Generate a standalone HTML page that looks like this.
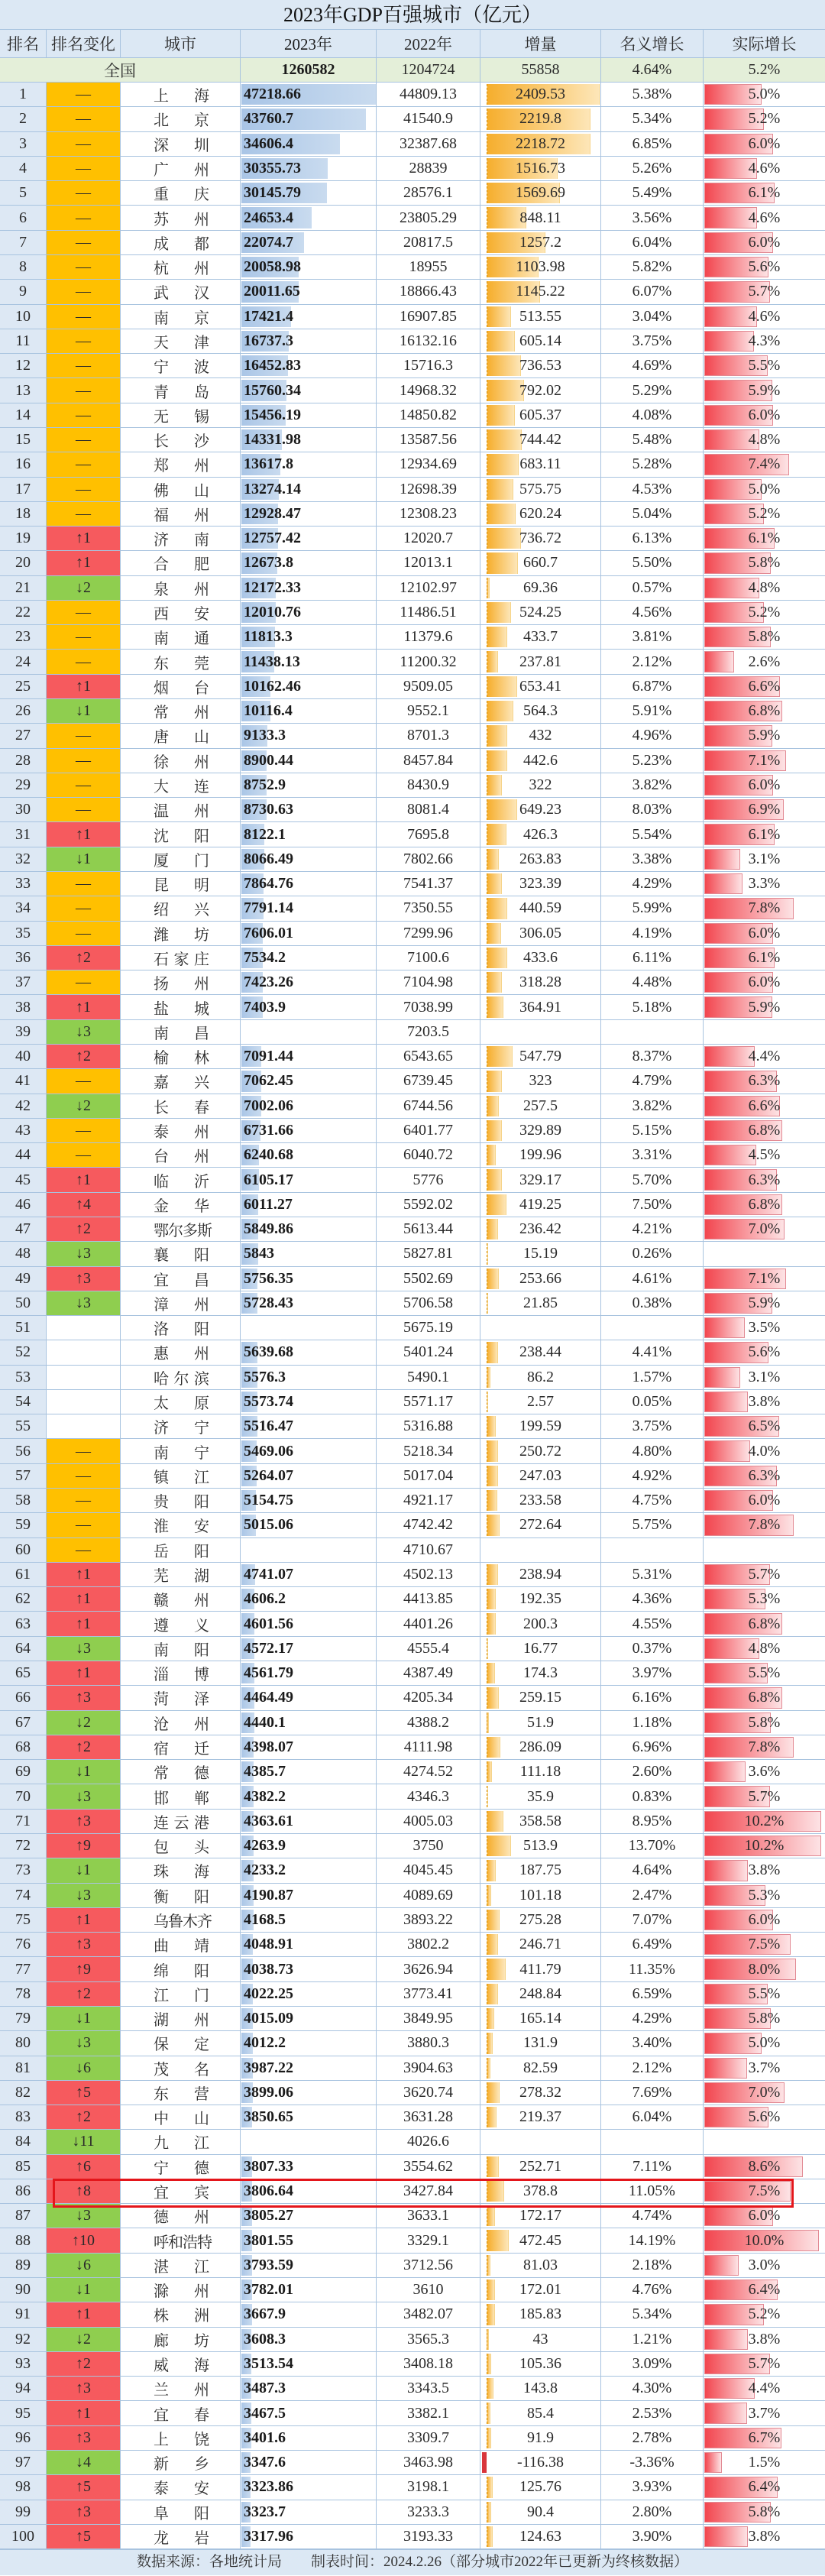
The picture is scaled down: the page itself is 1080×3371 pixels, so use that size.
<!DOCTYPE html>
<html><head><meta charset="utf-8">
<style>
*{margin:0;padding:0;box-sizing:border-box}
body{width:1080px;height:3371px;background:#fff;font-family:"Liberation Serif","Noto Serif CJK SC",serif;color:#2a2a2a;overflow:hidden}
.title{height:39px;background:#dce8f4;border-bottom:1px solid #a8c3df;text-align:center;font-size:26px;line-height:39px;color:#111}
.row{display:flex;height:32.29px;border-bottom:1px solid #a8c3df;font-size:20px}
.row>div{border-right:1px solid #a8c3df;position:relative;display:flex;align-items:center;justify-content:center;height:100%;white-space:nowrap}
.row>div:last-child{border-right:none}
.c1{width:61px;background:#dde8f4}
.c2{width:97px}
.c3{width:157px}
.c4{width:178px;justify-content:flex-start!important;padding-left:4px;font-weight:bold;color:#1a1a1a}
.c5{width:136px}
.c6{width:158px}
.c7{width:134px}
.c8{width:159px}
.hd{height:37px;background:#dce8f4;font-size:21px}
.hd>div{background:#dce8f4}
.qg{height:32px;background:#e4efd9;font-size:20px}
.qg>div{background:#e4efd9}
.o{background:#ffc000}
.u{background:#f65a5e}
.d{background:#8fce4f}
.c3 span{display:inline-block}
.n2{justify-content:space-between!important;padding:0 40px 0 43px}
.n3{justify-content:space-between!important;padding:0 40px 0 43px}
.n4{justify-content:flex-start!important;padding-left:43px;letter-spacing:-1px}
.c4 b,.c6 b,.c8 b{position:absolute;top:2px;bottom:2px;left:1px}
.c4 b{width:calc(var(--v) * 176px / 47218.66);background:linear-gradient(90deg,#a9c5e6,#c9dbef)}
.c6 b{left:8px;width:calc(var(--v) * 148px / 2409.53);background:linear-gradient(90deg,#f6ae2d,#fde6b8);border-left:1px dashed #d98f00;border-right:1px solid #f6d48a}
.c8 b{width:calc(var(--v) * 15px);background:linear-gradient(90deg,#f2464f,#fde3e5);border:1px solid #e28a94}
.c6 b.neg{left:2px;width:6px;background:#d9363c;border:none}
.c4 i,.c6 i,.c8 i{position:relative;font-style:normal}
.foot{height:34px;background:#dce8f4;text-align:center;font-size:19px;line-height:32px;color:#333;border-top:1px solid #a8c3df}
.box{position:absolute;left:69px;top:2851px;width:970px;height:38px;border:3px solid #e4161b}
</style></head><body>
<div class="title">2023年GDP百强城市（亿元）</div>
<div class="row hd"><div class="c1">排名</div><div class="c2">排名变化</div><div class="c3">城市</div><div class="c4" style="justify-content:center!important;padding:0;font-weight:normal">2023年</div><div class="c5">2022年</div><div class="c6">增量</div><div class="c7">名义增长</div><div class="c8">实际增长</div></div>
<div class="row qg"><div style="width:315px;font-size:21px">全国</div><div class="c4" style="justify-content:center!important;padding:0">1260582</div><div class="c5">1204724</div><div class="c6">55858</div><div class="c7">4.64%</div><div class="c8">5.2%</div></div>

<div class="row"><div class="c1">1</div><div class="c2 o">—</div><div class="c3 n2"><span>上</span><span>海</span></div><div class="c4" style="--v:47218.66"><b></b><i>47218.66</i></div><div class="c5">44809.13</div><div class="c6" style="--v:2409.53"><b></b><i>2409.53</i></div><div class="c7">5.38%</div><div class="c8" style="--v:5.0"><b></b><i>5.0%</i></div></div>
<div class="row"><div class="c1">2</div><div class="c2 o">—</div><div class="c3 n2"><span>北</span><span>京</span></div><div class="c4" style="--v:43760.7"><b></b><i>43760.7</i></div><div class="c5">41540.9</div><div class="c6" style="--v:2219.8"><b></b><i>2219.8</i></div><div class="c7">5.34%</div><div class="c8" style="--v:5.2"><b></b><i>5.2%</i></div></div>
<div class="row"><div class="c1">3</div><div class="c2 o">—</div><div class="c3 n2"><span>深</span><span>圳</span></div><div class="c4" style="--v:34606.4"><b></b><i>34606.4</i></div><div class="c5">32387.68</div><div class="c6" style="--v:2218.72"><b></b><i>2218.72</i></div><div class="c7">6.85%</div><div class="c8" style="--v:6.0"><b></b><i>6.0%</i></div></div>
<div class="row"><div class="c1">4</div><div class="c2 o">—</div><div class="c3 n2"><span>广</span><span>州</span></div><div class="c4" style="--v:30355.73"><b></b><i>30355.73</i></div><div class="c5">28839</div><div class="c6" style="--v:1516.73"><b></b><i>1516.73</i></div><div class="c7">5.26%</div><div class="c8" style="--v:4.6"><b></b><i>4.6%</i></div></div>
<div class="row"><div class="c1">5</div><div class="c2 o">—</div><div class="c3 n2"><span>重</span><span>庆</span></div><div class="c4" style="--v:30145.79"><b></b><i>30145.79</i></div><div class="c5">28576.1</div><div class="c6" style="--v:1569.69"><b></b><i>1569.69</i></div><div class="c7">5.49%</div><div class="c8" style="--v:6.1"><b></b><i>6.1%</i></div></div>
<div class="row"><div class="c1">6</div><div class="c2 o">—</div><div class="c3 n2"><span>苏</span><span>州</span></div><div class="c4" style="--v:24653.4"><b></b><i>24653.4</i></div><div class="c5">23805.29</div><div class="c6" style="--v:848.11"><b></b><i>848.11</i></div><div class="c7">3.56%</div><div class="c8" style="--v:4.6"><b></b><i>4.6%</i></div></div>
<div class="row"><div class="c1">7</div><div class="c2 o">—</div><div class="c3 n2"><span>成</span><span>都</span></div><div class="c4" style="--v:22074.7"><b></b><i>22074.7</i></div><div class="c5">20817.5</div><div class="c6" style="--v:1257.2"><b></b><i>1257.2</i></div><div class="c7">6.04%</div><div class="c8" style="--v:6.0"><b></b><i>6.0%</i></div></div>
<div class="row"><div class="c1">8</div><div class="c2 o">—</div><div class="c3 n2"><span>杭</span><span>州</span></div><div class="c4" style="--v:20058.98"><b></b><i>20058.98</i></div><div class="c5">18955</div><div class="c6" style="--v:1103.98"><b></b><i>1103.98</i></div><div class="c7">5.82%</div><div class="c8" style="--v:5.6"><b></b><i>5.6%</i></div></div>
<div class="row"><div class="c1">9</div><div class="c2 o">—</div><div class="c3 n2"><span>武</span><span>汉</span></div><div class="c4" style="--v:20011.65"><b></b><i>20011.65</i></div><div class="c5">18866.43</div><div class="c6" style="--v:1145.22"><b></b><i>1145.22</i></div><div class="c7">6.07%</div><div class="c8" style="--v:5.7"><b></b><i>5.7%</i></div></div>
<div class="row"><div class="c1">10</div><div class="c2 o">—</div><div class="c3 n2"><span>南</span><span>京</span></div><div class="c4" style="--v:17421.4"><b></b><i>17421.4</i></div><div class="c5">16907.85</div><div class="c6" style="--v:513.55"><b></b><i>513.55</i></div><div class="c7">3.04%</div><div class="c8" style="--v:4.6"><b></b><i>4.6%</i></div></div>
<div class="row"><div class="c1">11</div><div class="c2 o">—</div><div class="c3 n2"><span>天</span><span>津</span></div><div class="c4" style="--v:16737.3"><b></b><i>16737.3</i></div><div class="c5">16132.16</div><div class="c6" style="--v:605.14"><b></b><i>605.14</i></div><div class="c7">3.75%</div><div class="c8" style="--v:4.3"><b></b><i>4.3%</i></div></div>
<div class="row"><div class="c1">12</div><div class="c2 o">—</div><div class="c3 n2"><span>宁</span><span>波</span></div><div class="c4" style="--v:16452.83"><b></b><i>16452.83</i></div><div class="c5">15716.3</div><div class="c6" style="--v:736.53"><b></b><i>736.53</i></div><div class="c7">4.69%</div><div class="c8" style="--v:5.5"><b></b><i>5.5%</i></div></div>
<div class="row"><div class="c1">13</div><div class="c2 o">—</div><div class="c3 n2"><span>青</span><span>岛</span></div><div class="c4" style="--v:15760.34"><b></b><i>15760.34</i></div><div class="c5">14968.32</div><div class="c6" style="--v:792.02"><b></b><i>792.02</i></div><div class="c7">5.29%</div><div class="c8" style="--v:5.9"><b></b><i>5.9%</i></div></div>
<div class="row"><div class="c1">14</div><div class="c2 o">—</div><div class="c3 n2"><span>无</span><span>锡</span></div><div class="c4" style="--v:15456.19"><b></b><i>15456.19</i></div><div class="c5">14850.82</div><div class="c6" style="--v:605.37"><b></b><i>605.37</i></div><div class="c7">4.08%</div><div class="c8" style="--v:6.0"><b></b><i>6.0%</i></div></div>
<div class="row"><div class="c1">15</div><div class="c2 o">—</div><div class="c3 n2"><span>长</span><span>沙</span></div><div class="c4" style="--v:14331.98"><b></b><i>14331.98</i></div><div class="c5">13587.56</div><div class="c6" style="--v:744.42"><b></b><i>744.42</i></div><div class="c7">5.48%</div><div class="c8" style="--v:4.8"><b></b><i>4.8%</i></div></div>
<div class="row"><div class="c1">16</div><div class="c2 o">—</div><div class="c3 n2"><span>郑</span><span>州</span></div><div class="c4" style="--v:13617.8"><b></b><i>13617.8</i></div><div class="c5">12934.69</div><div class="c6" style="--v:683.11"><b></b><i>683.11</i></div><div class="c7">5.28%</div><div class="c8" style="--v:7.4"><b></b><i>7.4%</i></div></div>
<div class="row"><div class="c1">17</div><div class="c2 o">—</div><div class="c3 n2"><span>佛</span><span>山</span></div><div class="c4" style="--v:13274.14"><b></b><i>13274.14</i></div><div class="c5">12698.39</div><div class="c6" style="--v:575.75"><b></b><i>575.75</i></div><div class="c7">4.53%</div><div class="c8" style="--v:5.0"><b></b><i>5.0%</i></div></div>
<div class="row"><div class="c1">18</div><div class="c2 o">—</div><div class="c3 n2"><span>福</span><span>州</span></div><div class="c4" style="--v:12928.47"><b></b><i>12928.47</i></div><div class="c5">12308.23</div><div class="c6" style="--v:620.24"><b></b><i>620.24</i></div><div class="c7">5.04%</div><div class="c8" style="--v:5.2"><b></b><i>5.2%</i></div></div>
<div class="row"><div class="c1">19</div><div class="c2 u">↑1</div><div class="c3 n2"><span>济</span><span>南</span></div><div class="c4" style="--v:12757.42"><b></b><i>12757.42</i></div><div class="c5">12020.7</div><div class="c6" style="--v:736.72"><b></b><i>736.72</i></div><div class="c7">6.13%</div><div class="c8" style="--v:6.1"><b></b><i>6.1%</i></div></div>
<div class="row"><div class="c1">20</div><div class="c2 u">↑1</div><div class="c3 n2"><span>合</span><span>肥</span></div><div class="c4" style="--v:12673.8"><b></b><i>12673.8</i></div><div class="c5">12013.1</div><div class="c6" style="--v:660.7"><b></b><i>660.7</i></div><div class="c7">5.50%</div><div class="c8" style="--v:5.8"><b></b><i>5.8%</i></div></div>
<div class="row"><div class="c1">21</div><div class="c2 d">↓2</div><div class="c3 n2"><span>泉</span><span>州</span></div><div class="c4" style="--v:12172.33"><b></b><i>12172.33</i></div><div class="c5">12102.97</div><div class="c6" style="--v:69.36"><b></b><i>69.36</i></div><div class="c7">0.57%</div><div class="c8" style="--v:4.8"><b></b><i>4.8%</i></div></div>
<div class="row"><div class="c1">22</div><div class="c2 o">—</div><div class="c3 n2"><span>西</span><span>安</span></div><div class="c4" style="--v:12010.76"><b></b><i>12010.76</i></div><div class="c5">11486.51</div><div class="c6" style="--v:524.25"><b></b><i>524.25</i></div><div class="c7">4.56%</div><div class="c8" style="--v:5.2"><b></b><i>5.2%</i></div></div>
<div class="row"><div class="c1">23</div><div class="c2 o">—</div><div class="c3 n2"><span>南</span><span>通</span></div><div class="c4" style="--v:11813.3"><b></b><i>11813.3</i></div><div class="c5">11379.6</div><div class="c6" style="--v:433.7"><b></b><i>433.7</i></div><div class="c7">3.81%</div><div class="c8" style="--v:5.8"><b></b><i>5.8%</i></div></div>
<div class="row"><div class="c1">24</div><div class="c2 o">—</div><div class="c3 n2"><span>东</span><span>莞</span></div><div class="c4" style="--v:11438.13"><b></b><i>11438.13</i></div><div class="c5">11200.32</div><div class="c6" style="--v:237.81"><b></b><i>237.81</i></div><div class="c7">2.12%</div><div class="c8" style="--v:2.6"><b></b><i>2.6%</i></div></div>
<div class="row"><div class="c1">25</div><div class="c2 u">↑1</div><div class="c3 n2"><span>烟</span><span>台</span></div><div class="c4" style="--v:10162.46"><b></b><i>10162.46</i></div><div class="c5">9509.05</div><div class="c6" style="--v:653.41"><b></b><i>653.41</i></div><div class="c7">6.87%</div><div class="c8" style="--v:6.6"><b></b><i>6.6%</i></div></div>
<div class="row"><div class="c1">26</div><div class="c2 d">↓1</div><div class="c3 n2"><span>常</span><span>州</span></div><div class="c4" style="--v:10116.4"><b></b><i>10116.4</i></div><div class="c5">9552.1</div><div class="c6" style="--v:564.3"><b></b><i>564.3</i></div><div class="c7">5.91%</div><div class="c8" style="--v:6.8"><b></b><i>6.8%</i></div></div>
<div class="row"><div class="c1">27</div><div class="c2 o">—</div><div class="c3 n2"><span>唐</span><span>山</span></div><div class="c4" style="--v:9133.3"><b></b><i>9133.3</i></div><div class="c5">8701.3</div><div class="c6" style="--v:432"><b></b><i>432</i></div><div class="c7">4.96%</div><div class="c8" style="--v:5.9"><b></b><i>5.9%</i></div></div>
<div class="row"><div class="c1">28</div><div class="c2 o">—</div><div class="c3 n2"><span>徐</span><span>州</span></div><div class="c4" style="--v:8900.44"><b></b><i>8900.44</i></div><div class="c5">8457.84</div><div class="c6" style="--v:442.6"><b></b><i>442.6</i></div><div class="c7">5.23%</div><div class="c8" style="--v:7.1"><b></b><i>7.1%</i></div></div>
<div class="row"><div class="c1">29</div><div class="c2 o">—</div><div class="c3 n2"><span>大</span><span>连</span></div><div class="c4" style="--v:8752.9"><b></b><i>8752.9</i></div><div class="c5">8430.9</div><div class="c6" style="--v:322"><b></b><i>322</i></div><div class="c7">3.82%</div><div class="c8" style="--v:6.0"><b></b><i>6.0%</i></div></div>
<div class="row"><div class="c1">30</div><div class="c2 o">—</div><div class="c3 n2"><span>温</span><span>州</span></div><div class="c4" style="--v:8730.63"><b></b><i>8730.63</i></div><div class="c5">8081.4</div><div class="c6" style="--v:649.23"><b></b><i>649.23</i></div><div class="c7">8.03%</div><div class="c8" style="--v:6.9"><b></b><i>6.9%</i></div></div>
<div class="row"><div class="c1">31</div><div class="c2 u">↑1</div><div class="c3 n2"><span>沈</span><span>阳</span></div><div class="c4" style="--v:8122.1"><b></b><i>8122.1</i></div><div class="c5">7695.8</div><div class="c6" style="--v:426.3"><b></b><i>426.3</i></div><div class="c7">5.54%</div><div class="c8" style="--v:6.1"><b></b><i>6.1%</i></div></div>
<div class="row"><div class="c1">32</div><div class="c2 d">↓1</div><div class="c3 n2"><span>厦</span><span>门</span></div><div class="c4" style="--v:8066.49"><b></b><i>8066.49</i></div><div class="c5">7802.66</div><div class="c6" style="--v:263.83"><b></b><i>263.83</i></div><div class="c7">3.38%</div><div class="c8" style="--v:3.1"><b></b><i>3.1%</i></div></div>
<div class="row"><div class="c1">33</div><div class="c2 o">—</div><div class="c3 n2"><span>昆</span><span>明</span></div><div class="c4" style="--v:7864.76"><b></b><i>7864.76</i></div><div class="c5">7541.37</div><div class="c6" style="--v:323.39"><b></b><i>323.39</i></div><div class="c7">4.29%</div><div class="c8" style="--v:3.3"><b></b><i>3.3%</i></div></div>
<div class="row"><div class="c1">34</div><div class="c2 o">—</div><div class="c3 n2"><span>绍</span><span>兴</span></div><div class="c4" style="--v:7791.14"><b></b><i>7791.14</i></div><div class="c5">7350.55</div><div class="c6" style="--v:440.59"><b></b><i>440.59</i></div><div class="c7">5.99%</div><div class="c8" style="--v:7.8"><b></b><i>7.8%</i></div></div>
<div class="row"><div class="c1">35</div><div class="c2 o">—</div><div class="c3 n2"><span>潍</span><span>坊</span></div><div class="c4" style="--v:7606.01"><b></b><i>7606.01</i></div><div class="c5">7299.96</div><div class="c6" style="--v:306.05"><b></b><i>306.05</i></div><div class="c7">4.19%</div><div class="c8" style="--v:6.0"><b></b><i>6.0%</i></div></div>
<div class="row"><div class="c1">36</div><div class="c2 u">↑2</div><div class="c3 n3"><span>石</span><span>家</span><span>庄</span></div><div class="c4" style="--v:7534.2"><b></b><i>7534.2</i></div><div class="c5">7100.6</div><div class="c6" style="--v:433.6"><b></b><i>433.6</i></div><div class="c7">6.11%</div><div class="c8" style="--v:6.1"><b></b><i>6.1%</i></div></div>
<div class="row"><div class="c1">37</div><div class="c2 o">—</div><div class="c3 n2"><span>扬</span><span>州</span></div><div class="c4" style="--v:7423.26"><b></b><i>7423.26</i></div><div class="c5">7104.98</div><div class="c6" style="--v:318.28"><b></b><i>318.28</i></div><div class="c7">4.48%</div><div class="c8" style="--v:6.0"><b></b><i>6.0%</i></div></div>
<div class="row"><div class="c1">38</div><div class="c2 u">↑1</div><div class="c3 n2"><span>盐</span><span>城</span></div><div class="c4" style="--v:7403.9"><b></b><i>7403.9</i></div><div class="c5">7038.99</div><div class="c6" style="--v:364.91"><b></b><i>364.91</i></div><div class="c7">5.18%</div><div class="c8" style="--v:5.9"><b></b><i>5.9%</i></div></div>
<div class="row"><div class="c1">39</div><div class="c2 d">↓3</div><div class="c3 n2"><span>南</span><span>昌</span></div><div class="c4"></div><div class="c5">7203.5</div><div class="c6"></div><div class="c7"></div><div class="c8"></div></div>
<div class="row"><div class="c1">40</div><div class="c2 u">↑2</div><div class="c3 n2"><span>榆</span><span>林</span></div><div class="c4" style="--v:7091.44"><b></b><i>7091.44</i></div><div class="c5">6543.65</div><div class="c6" style="--v:547.79"><b></b><i>547.79</i></div><div class="c7">8.37%</div><div class="c8" style="--v:4.4"><b></b><i>4.4%</i></div></div>
<div class="row"><div class="c1">41</div><div class="c2 o">—</div><div class="c3 n2"><span>嘉</span><span>兴</span></div><div class="c4" style="--v:7062.45"><b></b><i>7062.45</i></div><div class="c5">6739.45</div><div class="c6" style="--v:323"><b></b><i>323</i></div><div class="c7">4.79%</div><div class="c8" style="--v:6.3"><b></b><i>6.3%</i></div></div>
<div class="row"><div class="c1">42</div><div class="c2 d">↓2</div><div class="c3 n2"><span>长</span><span>春</span></div><div class="c4" style="--v:7002.06"><b></b><i>7002.06</i></div><div class="c5">6744.56</div><div class="c6" style="--v:257.5"><b></b><i>257.5</i></div><div class="c7">3.82%</div><div class="c8" style="--v:6.6"><b></b><i>6.6%</i></div></div>
<div class="row"><div class="c1">43</div><div class="c2 o">—</div><div class="c3 n2"><span>泰</span><span>州</span></div><div class="c4" style="--v:6731.66"><b></b><i>6731.66</i></div><div class="c5">6401.77</div><div class="c6" style="--v:329.89"><b></b><i>329.89</i></div><div class="c7">5.15%</div><div class="c8" style="--v:6.8"><b></b><i>6.8%</i></div></div>
<div class="row"><div class="c1">44</div><div class="c2 o">—</div><div class="c3 n2"><span>台</span><span>州</span></div><div class="c4" style="--v:6240.68"><b></b><i>6240.68</i></div><div class="c5">6040.72</div><div class="c6" style="--v:199.96"><b></b><i>199.96</i></div><div class="c7">3.31%</div><div class="c8" style="--v:4.5"><b></b><i>4.5%</i></div></div>
<div class="row"><div class="c1">45</div><div class="c2 u">↑1</div><div class="c3 n2"><span>临</span><span>沂</span></div><div class="c4" style="--v:6105.17"><b></b><i>6105.17</i></div><div class="c5">5776</div><div class="c6" style="--v:329.17"><b></b><i>329.17</i></div><div class="c7">5.70%</div><div class="c8" style="--v:6.3"><b></b><i>6.3%</i></div></div>
<div class="row"><div class="c1">46</div><div class="c2 u">↑4</div><div class="c3 n2"><span>金</span><span>华</span></div><div class="c4" style="--v:6011.27"><b></b><i>6011.27</i></div><div class="c5">5592.02</div><div class="c6" style="--v:419.25"><b></b><i>419.25</i></div><div class="c7">7.50%</div><div class="c8" style="--v:6.8"><b></b><i>6.8%</i></div></div>
<div class="row"><div class="c1">47</div><div class="c2 u">↑2</div><div class="c3 n4">鄂尔多斯</div><div class="c4" style="--v:5849.86"><b></b><i>5849.86</i></div><div class="c5">5613.44</div><div class="c6" style="--v:236.42"><b></b><i>236.42</i></div><div class="c7">4.21%</div><div class="c8" style="--v:7.0"><b></b><i>7.0%</i></div></div>
<div class="row"><div class="c1">48</div><div class="c2 d">↓3</div><div class="c3 n2"><span>襄</span><span>阳</span></div><div class="c4" style="--v:5843"><b></b><i>5843</i></div><div class="c5">5827.81</div><div class="c6" style="--v:15.19"><b></b><i>15.19</i></div><div class="c7">0.26%</div><div class="c8"></div></div>
<div class="row"><div class="c1">49</div><div class="c2 u">↑3</div><div class="c3 n2"><span>宜</span><span>昌</span></div><div class="c4" style="--v:5756.35"><b></b><i>5756.35</i></div><div class="c5">5502.69</div><div class="c6" style="--v:253.66"><b></b><i>253.66</i></div><div class="c7">4.61%</div><div class="c8" style="--v:7.1"><b></b><i>7.1%</i></div></div>
<div class="row"><div class="c1">50</div><div class="c2 d">↓3</div><div class="c3 n2"><span>漳</span><span>州</span></div><div class="c4" style="--v:5728.43"><b></b><i>5728.43</i></div><div class="c5">5706.58</div><div class="c6" style="--v:21.85"><b></b><i>21.85</i></div><div class="c7">0.38%</div><div class="c8" style="--v:5.9"><b></b><i>5.9%</i></div></div>
<div class="row"><div class="c1">51</div><div class="c2"></div><div class="c3 n2"><span>洛</span><span>阳</span></div><div class="c4"></div><div class="c5">5675.19</div><div class="c6"></div><div class="c7"></div><div class="c8" style="--v:3.5"><b></b><i>3.5%</i></div></div>
<div class="row"><div class="c1">52</div><div class="c2"></div><div class="c3 n2"><span>惠</span><span>州</span></div><div class="c4" style="--v:5639.68"><b></b><i>5639.68</i></div><div class="c5">5401.24</div><div class="c6" style="--v:238.44"><b></b><i>238.44</i></div><div class="c7">4.41%</div><div class="c8" style="--v:5.6"><b></b><i>5.6%</i></div></div>
<div class="row"><div class="c1">53</div><div class="c2"></div><div class="c3 n3"><span>哈</span><span>尔</span><span>滨</span></div><div class="c4" style="--v:5576.3"><b></b><i>5576.3</i></div><div class="c5">5490.1</div><div class="c6" style="--v:86.2"><b></b><i>86.2</i></div><div class="c7">1.57%</div><div class="c8" style="--v:3.1"><b></b><i>3.1%</i></div></div>
<div class="row"><div class="c1">54</div><div class="c2"></div><div class="c3 n2"><span>太</span><span>原</span></div><div class="c4" style="--v:5573.74"><b></b><i>5573.74</i></div><div class="c5">5571.17</div><div class="c6" style="--v:2.57"><b></b><i>2.57</i></div><div class="c7">0.05%</div><div class="c8" style="--v:3.8"><b></b><i>3.8%</i></div></div>
<div class="row"><div class="c1">55</div><div class="c2"></div><div class="c3 n2"><span>济</span><span>宁</span></div><div class="c4" style="--v:5516.47"><b></b><i>5516.47</i></div><div class="c5">5316.88</div><div class="c6" style="--v:199.59"><b></b><i>199.59</i></div><div class="c7">3.75%</div><div class="c8" style="--v:6.5"><b></b><i>6.5%</i></div></div>
<div class="row"><div class="c1">56</div><div class="c2 o">—</div><div class="c3 n2"><span>南</span><span>宁</span></div><div class="c4" style="--v:5469.06"><b></b><i>5469.06</i></div><div class="c5">5218.34</div><div class="c6" style="--v:250.72"><b></b><i>250.72</i></div><div class="c7">4.80%</div><div class="c8" style="--v:4.0"><b></b><i>4.0%</i></div></div>
<div class="row"><div class="c1">57</div><div class="c2 o">—</div><div class="c3 n2"><span>镇</span><span>江</span></div><div class="c4" style="--v:5264.07"><b></b><i>5264.07</i></div><div class="c5">5017.04</div><div class="c6" style="--v:247.03"><b></b><i>247.03</i></div><div class="c7">4.92%</div><div class="c8" style="--v:6.3"><b></b><i>6.3%</i></div></div>
<div class="row"><div class="c1">58</div><div class="c2 o">—</div><div class="c3 n2"><span>贵</span><span>阳</span></div><div class="c4" style="--v:5154.75"><b></b><i>5154.75</i></div><div class="c5">4921.17</div><div class="c6" style="--v:233.58"><b></b><i>233.58</i></div><div class="c7">4.75%</div><div class="c8" style="--v:6.0"><b></b><i>6.0%</i></div></div>
<div class="row"><div class="c1">59</div><div class="c2 o">—</div><div class="c3 n2"><span>淮</span><span>安</span></div><div class="c4" style="--v:5015.06"><b></b><i>5015.06</i></div><div class="c5">4742.42</div><div class="c6" style="--v:272.64"><b></b><i>272.64</i></div><div class="c7">5.75%</div><div class="c8" style="--v:7.8"><b></b><i>7.8%</i></div></div>
<div class="row"><div class="c1">60</div><div class="c2 o">—</div><div class="c3 n2"><span>岳</span><span>阳</span></div><div class="c4"></div><div class="c5">4710.67</div><div class="c6"></div><div class="c7"></div><div class="c8"></div></div>
<div class="row"><div class="c1">61</div><div class="c2 u">↑1</div><div class="c3 n2"><span>芜</span><span>湖</span></div><div class="c4" style="--v:4741.07"><b></b><i>4741.07</i></div><div class="c5">4502.13</div><div class="c6" style="--v:238.94"><b></b><i>238.94</i></div><div class="c7">5.31%</div><div class="c8" style="--v:5.7"><b></b><i>5.7%</i></div></div>
<div class="row"><div class="c1">62</div><div class="c2 u">↑1</div><div class="c3 n2"><span>赣</span><span>州</span></div><div class="c4" style="--v:4606.2"><b></b><i>4606.2</i></div><div class="c5">4413.85</div><div class="c6" style="--v:192.35"><b></b><i>192.35</i></div><div class="c7">4.36%</div><div class="c8" style="--v:5.3"><b></b><i>5.3%</i></div></div>
<div class="row"><div class="c1">63</div><div class="c2 u">↑1</div><div class="c3 n2"><span>遵</span><span>义</span></div><div class="c4" style="--v:4601.56"><b></b><i>4601.56</i></div><div class="c5">4401.26</div><div class="c6" style="--v:200.3"><b></b><i>200.3</i></div><div class="c7">4.55%</div><div class="c8" style="--v:6.8"><b></b><i>6.8%</i></div></div>
<div class="row"><div class="c1">64</div><div class="c2 d">↓3</div><div class="c3 n2"><span>南</span><span>阳</span></div><div class="c4" style="--v:4572.17"><b></b><i>4572.17</i></div><div class="c5">4555.4</div><div class="c6" style="--v:16.77"><b></b><i>16.77</i></div><div class="c7">0.37%</div><div class="c8" style="--v:4.8"><b></b><i>4.8%</i></div></div>
<div class="row"><div class="c1">65</div><div class="c2 u">↑1</div><div class="c3 n2"><span>淄</span><span>博</span></div><div class="c4" style="--v:4561.79"><b></b><i>4561.79</i></div><div class="c5">4387.49</div><div class="c6" style="--v:174.3"><b></b><i>174.3</i></div><div class="c7">3.97%</div><div class="c8" style="--v:5.5"><b></b><i>5.5%</i></div></div>
<div class="row"><div class="c1">66</div><div class="c2 u">↑3</div><div class="c3 n2"><span>菏</span><span>泽</span></div><div class="c4" style="--v:4464.49"><b></b><i>4464.49</i></div><div class="c5">4205.34</div><div class="c6" style="--v:259.15"><b></b><i>259.15</i></div><div class="c7">6.16%</div><div class="c8" style="--v:6.8"><b></b><i>6.8%</i></div></div>
<div class="row"><div class="c1">67</div><div class="c2 d">↓2</div><div class="c3 n2"><span>沧</span><span>州</span></div><div class="c4" style="--v:4440.1"><b></b><i>4440.1</i></div><div class="c5">4388.2</div><div class="c6" style="--v:51.9"><b></b><i>51.9</i></div><div class="c7">1.18%</div><div class="c8" style="--v:5.8"><b></b><i>5.8%</i></div></div>
<div class="row"><div class="c1">68</div><div class="c2 u">↑2</div><div class="c3 n2"><span>宿</span><span>迁</span></div><div class="c4" style="--v:4398.07"><b></b><i>4398.07</i></div><div class="c5">4111.98</div><div class="c6" style="--v:286.09"><b></b><i>286.09</i></div><div class="c7">6.96%</div><div class="c8" style="--v:7.8"><b></b><i>7.8%</i></div></div>
<div class="row"><div class="c1">69</div><div class="c2 d">↓1</div><div class="c3 n2"><span>常</span><span>德</span></div><div class="c4" style="--v:4385.7"><b></b><i>4385.7</i></div><div class="c5">4274.52</div><div class="c6" style="--v:111.18"><b></b><i>111.18</i></div><div class="c7">2.60%</div><div class="c8" style="--v:3.6"><b></b><i>3.6%</i></div></div>
<div class="row"><div class="c1">70</div><div class="c2 d">↓3</div><div class="c3 n2"><span>邯</span><span>郸</span></div><div class="c4" style="--v:4382.2"><b></b><i>4382.2</i></div><div class="c5">4346.3</div><div class="c6" style="--v:35.9"><b></b><i>35.9</i></div><div class="c7">0.83%</div><div class="c8" style="--v:5.7"><b></b><i>5.7%</i></div></div>
<div class="row"><div class="c1">71</div><div class="c2 u">↑3</div><div class="c3 n3"><span>连</span><span>云</span><span>港</span></div><div class="c4" style="--v:4363.61"><b></b><i>4363.61</i></div><div class="c5">4005.03</div><div class="c6" style="--v:358.58"><b></b><i>358.58</i></div><div class="c7">8.95%</div><div class="c8" style="--v:10.2"><b></b><i>10.2%</i></div></div>
<div class="row"><div class="c1">72</div><div class="c2 u">↑9</div><div class="c3 n2"><span>包</span><span>头</span></div><div class="c4" style="--v:4263.9"><b></b><i>4263.9</i></div><div class="c5">3750</div><div class="c6" style="--v:513.9"><b></b><i>513.9</i></div><div class="c7">13.70%</div><div class="c8" style="--v:10.2"><b></b><i>10.2%</i></div></div>
<div class="row"><div class="c1">73</div><div class="c2 d">↓1</div><div class="c3 n2"><span>珠</span><span>海</span></div><div class="c4" style="--v:4233.2"><b></b><i>4233.2</i></div><div class="c5">4045.45</div><div class="c6" style="--v:187.75"><b></b><i>187.75</i></div><div class="c7">4.64%</div><div class="c8" style="--v:3.8"><b></b><i>3.8%</i></div></div>
<div class="row"><div class="c1">74</div><div class="c2 d">↓3</div><div class="c3 n2"><span>衡</span><span>阳</span></div><div class="c4" style="--v:4190.87"><b></b><i>4190.87</i></div><div class="c5">4089.69</div><div class="c6" style="--v:101.18"><b></b><i>101.18</i></div><div class="c7">2.47%</div><div class="c8" style="--v:5.3"><b></b><i>5.3%</i></div></div>
<div class="row"><div class="c1">75</div><div class="c2 u">↑1</div><div class="c3 n4">乌鲁木齐</div><div class="c4" style="--v:4168.5"><b></b><i>4168.5</i></div><div class="c5">3893.22</div><div class="c6" style="--v:275.28"><b></b><i>275.28</i></div><div class="c7">7.07%</div><div class="c8" style="--v:6.0"><b></b><i>6.0%</i></div></div>
<div class="row"><div class="c1">76</div><div class="c2 u">↑3</div><div class="c3 n2"><span>曲</span><span>靖</span></div><div class="c4" style="--v:4048.91"><b></b><i>4048.91</i></div><div class="c5">3802.2</div><div class="c6" style="--v:246.71"><b></b><i>246.71</i></div><div class="c7">6.49%</div><div class="c8" style="--v:7.5"><b></b><i>7.5%</i></div></div>
<div class="row"><div class="c1">77</div><div class="c2 u">↑9</div><div class="c3 n2"><span>绵</span><span>阳</span></div><div class="c4" style="--v:4038.73"><b></b><i>4038.73</i></div><div class="c5">3626.94</div><div class="c6" style="--v:411.79"><b></b><i>411.79</i></div><div class="c7">11.35%</div><div class="c8" style="--v:8.0"><b></b><i>8.0%</i></div></div>
<div class="row"><div class="c1">78</div><div class="c2 u">↑2</div><div class="c3 n2"><span>江</span><span>门</span></div><div class="c4" style="--v:4022.25"><b></b><i>4022.25</i></div><div class="c5">3773.41</div><div class="c6" style="--v:248.84"><b></b><i>248.84</i></div><div class="c7">6.59%</div><div class="c8" style="--v:5.5"><b></b><i>5.5%</i></div></div>
<div class="row"><div class="c1">79</div><div class="c2 d">↓1</div><div class="c3 n2"><span>湖</span><span>州</span></div><div class="c4" style="--v:4015.09"><b></b><i>4015.09</i></div><div class="c5">3849.95</div><div class="c6" style="--v:165.14"><b></b><i>165.14</i></div><div class="c7">4.29%</div><div class="c8" style="--v:5.8"><b></b><i>5.8%</i></div></div>
<div class="row"><div class="c1">80</div><div class="c2 d">↓3</div><div class="c3 n2"><span>保</span><span>定</span></div><div class="c4" style="--v:4012.2"><b></b><i>4012.2</i></div><div class="c5">3880.3</div><div class="c6" style="--v:131.9"><b></b><i>131.9</i></div><div class="c7">3.40%</div><div class="c8" style="--v:5.0"><b></b><i>5.0%</i></div></div>
<div class="row"><div class="c1">81</div><div class="c2 d">↓6</div><div class="c3 n2"><span>茂</span><span>名</span></div><div class="c4" style="--v:3987.22"><b></b><i>3987.22</i></div><div class="c5">3904.63</div><div class="c6" style="--v:82.59"><b></b><i>82.59</i></div><div class="c7">2.12%</div><div class="c8" style="--v:3.7"><b></b><i>3.7%</i></div></div>
<div class="row"><div class="c1">82</div><div class="c2 u">↑5</div><div class="c3 n2"><span>东</span><span>营</span></div><div class="c4" style="--v:3899.06"><b></b><i>3899.06</i></div><div class="c5">3620.74</div><div class="c6" style="--v:278.32"><b></b><i>278.32</i></div><div class="c7">7.69%</div><div class="c8" style="--v:7.0"><b></b><i>7.0%</i></div></div>
<div class="row"><div class="c1">83</div><div class="c2 u">↑2</div><div class="c3 n2"><span>中</span><span>山</span></div><div class="c4" style="--v:3850.65"><b></b><i>3850.65</i></div><div class="c5">3631.28</div><div class="c6" style="--v:219.37"><b></b><i>219.37</i></div><div class="c7">6.04%</div><div class="c8" style="--v:5.6"><b></b><i>5.6%</i></div></div>
<div class="row"><div class="c1">84</div><div class="c2 d">↓11</div><div class="c3 n2"><span>九</span><span>江</span></div><div class="c4"></div><div class="c5">4026.6</div><div class="c6"></div><div class="c7"></div><div class="c8"></div></div>
<div class="row"><div class="c1">85</div><div class="c2 u">↑6</div><div class="c3 n2"><span>宁</span><span>德</span></div><div class="c4" style="--v:3807.33"><b></b><i>3807.33</i></div><div class="c5">3554.62</div><div class="c6" style="--v:252.71"><b></b><i>252.71</i></div><div class="c7">7.11%</div><div class="c8" style="--v:8.6"><b></b><i>8.6%</i></div></div>
<div class="row"><div class="c1">86</div><div class="c2 u">↑8</div><div class="c3 n2"><span>宜</span><span>宾</span></div><div class="c4" style="--v:3806.64"><b></b><i>3806.64</i></div><div class="c5">3427.84</div><div class="c6" style="--v:378.8"><b></b><i>378.8</i></div><div class="c7">11.05%</div><div class="c8" style="--v:7.5"><b></b><i>7.5%</i></div></div>
<div class="row"><div class="c1">87</div><div class="c2 d">↓3</div><div class="c3 n2"><span>德</span><span>州</span></div><div class="c4" style="--v:3805.27"><b></b><i>3805.27</i></div><div class="c5">3633.1</div><div class="c6" style="--v:172.17"><b></b><i>172.17</i></div><div class="c7">4.74%</div><div class="c8" style="--v:6.0"><b></b><i>6.0%</i></div></div>
<div class="row"><div class="c1">88</div><div class="c2 u">↑10</div><div class="c3 n4">呼和浩特</div><div class="c4" style="--v:3801.55"><b></b><i>3801.55</i></div><div class="c5">3329.1</div><div class="c6" style="--v:472.45"><b></b><i>472.45</i></div><div class="c7">14.19%</div><div class="c8" style="--v:10.0"><b></b><i>10.0%</i></div></div>
<div class="row"><div class="c1">89</div><div class="c2 d">↓6</div><div class="c3 n2"><span>湛</span><span>江</span></div><div class="c4" style="--v:3793.59"><b></b><i>3793.59</i></div><div class="c5">3712.56</div><div class="c6" style="--v:81.03"><b></b><i>81.03</i></div><div class="c7">2.18%</div><div class="c8" style="--v:3.0"><b></b><i>3.0%</i></div></div>
<div class="row"><div class="c1">90</div><div class="c2 d">↓1</div><div class="c3 n2"><span>滁</span><span>州</span></div><div class="c4" style="--v:3782.01"><b></b><i>3782.01</i></div><div class="c5">3610</div><div class="c6" style="--v:172.01"><b></b><i>172.01</i></div><div class="c7">4.76%</div><div class="c8" style="--v:6.4"><b></b><i>6.4%</i></div></div>
<div class="row"><div class="c1">91</div><div class="c2 u">↑1</div><div class="c3 n2"><span>株</span><span>洲</span></div><div class="c4" style="--v:3667.9"><b></b><i>3667.9</i></div><div class="c5">3482.07</div><div class="c6" style="--v:185.83"><b></b><i>185.83</i></div><div class="c7">5.34%</div><div class="c8" style="--v:5.2"><b></b><i>5.2%</i></div></div>
<div class="row"><div class="c1">92</div><div class="c2 d">↓2</div><div class="c3 n2"><span>廊</span><span>坊</span></div><div class="c4" style="--v:3608.3"><b></b><i>3608.3</i></div><div class="c5">3565.3</div><div class="c6" style="--v:43"><b></b><i>43</i></div><div class="c7">1.21%</div><div class="c8" style="--v:3.8"><b></b><i>3.8%</i></div></div>
<div class="row"><div class="c1">93</div><div class="c2 u">↑2</div><div class="c3 n2"><span>威</span><span>海</span></div><div class="c4" style="--v:3513.54"><b></b><i>3513.54</i></div><div class="c5">3408.18</div><div class="c6" style="--v:105.36"><b></b><i>105.36</i></div><div class="c7">3.09%</div><div class="c8" style="--v:5.7"><b></b><i>5.7%</i></div></div>
<div class="row"><div class="c1">94</div><div class="c2 u">↑3</div><div class="c3 n2"><span>兰</span><span>州</span></div><div class="c4" style="--v:3487.3"><b></b><i>3487.3</i></div><div class="c5">3343.5</div><div class="c6" style="--v:143.8"><b></b><i>143.8</i></div><div class="c7">4.30%</div><div class="c8" style="--v:4.4"><b></b><i>4.4%</i></div></div>
<div class="row"><div class="c1">95</div><div class="c2 u">↑1</div><div class="c3 n2"><span>宜</span><span>春</span></div><div class="c4" style="--v:3467.5"><b></b><i>3467.5</i></div><div class="c5">3382.1</div><div class="c6" style="--v:85.4"><b></b><i>85.4</i></div><div class="c7">2.53%</div><div class="c8" style="--v:3.7"><b></b><i>3.7%</i></div></div>
<div class="row"><div class="c1">96</div><div class="c2 u">↑3</div><div class="c3 n2"><span>上</span><span>饶</span></div><div class="c4" style="--v:3401.6"><b></b><i>3401.6</i></div><div class="c5">3309.7</div><div class="c6" style="--v:91.9"><b></b><i>91.9</i></div><div class="c7">2.78%</div><div class="c8" style="--v:6.7"><b></b><i>6.7%</i></div></div>
<div class="row"><div class="c1">97</div><div class="c2 d">↓4</div><div class="c3 n2"><span>新</span><span>乡</span></div><div class="c4" style="--v:3347.6"><b></b><i>3347.6</i></div><div class="c5">3463.98</div><div class="c6"><b class="neg"></b><i>-116.38</i></div><div class="c7">-3.36%</div><div class="c8" style="--v:1.5"><b></b><i>1.5%</i></div></div>
<div class="row"><div class="c1">98</div><div class="c2 u">↑5</div><div class="c3 n2"><span>泰</span><span>安</span></div><div class="c4" style="--v:3323.86"><b></b><i>3323.86</i></div><div class="c5">3198.1</div><div class="c6" style="--v:125.76"><b></b><i>125.76</i></div><div class="c7">3.93%</div><div class="c8" style="--v:6.4"><b></b><i>6.4%</i></div></div>
<div class="row"><div class="c1">99</div><div class="c2 u">↑3</div><div class="c3 n2"><span>阜</span><span>阳</span></div><div class="c4" style="--v:3323.7"><b></b><i>3323.7</i></div><div class="c5">3233.3</div><div class="c6" style="--v:90.4"><b></b><i>90.4</i></div><div class="c7">2.80%</div><div class="c8" style="--v:5.8"><b></b><i>5.8%</i></div></div>
<div class="row"><div class="c1">100</div><div class="c2 u">↑5</div><div class="c3 n2"><span>龙</span><span>岩</span></div><div class="c4" style="--v:3317.96"><b></b><i>3317.96</i></div><div class="c5">3193.33</div><div class="c6" style="--v:124.63"><b></b><i>124.63</i></div><div class="c7">3.90%</div><div class="c8" style="--v:3.8"><b></b><i>3.8%</i></div></div>
<div class="foot">数据来源：各地统计局　　制表时间：2024.2.26（部分城市2022年已更新为终核数据）</div>
<div class="box"></div>
</body></html>
